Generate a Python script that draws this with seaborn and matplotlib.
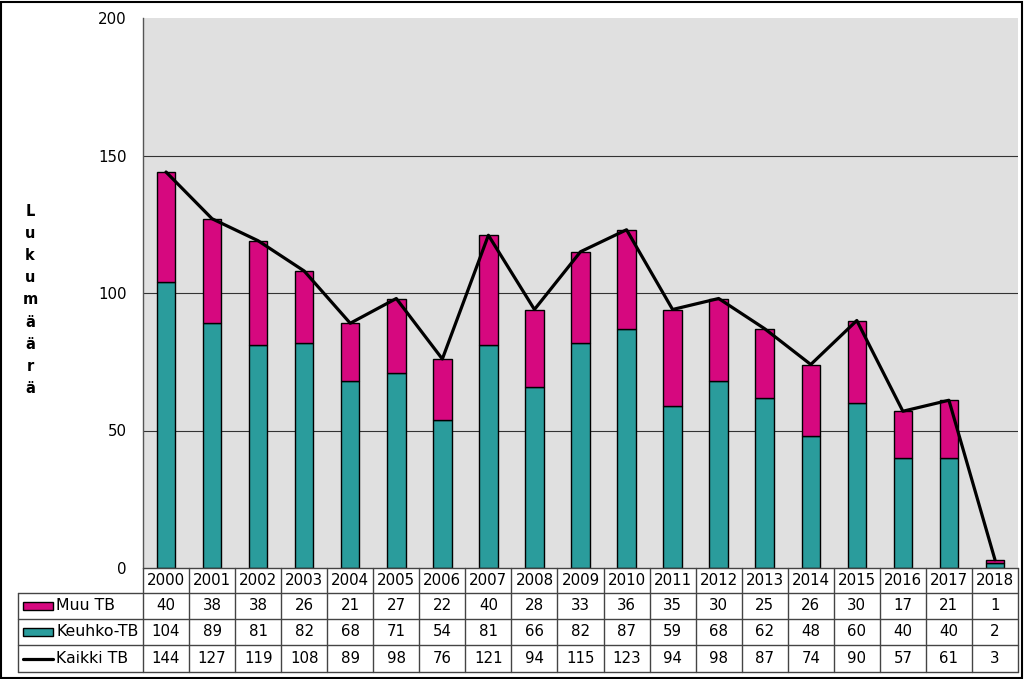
import numpy as np
import pandas as pd
import matplotlib
matplotlib.use("Agg")
import matplotlib.pyplot as plt
import matplotlib.transforms as mtransforms
from matplotlib.patches import Rectangle
from matplotlib.lines import Line2D
import seaborn as sns

years = ["2000", "2001", "2002", "2003", "2004", "2005", "2006", "2007", "2008", "2009",
         "2010", "2011", "2012", "2013", "2014", "2015", "2016", "2017", "2018"]
muu_tb = [40, 38, 38, 26, 21, 27, 22, 40, 28, 33, 36, 35, 30, 25, 26, 30, 17, 21, 1]
keuhko_tb = [104, 89, 81, 82, 68, 71, 54, 81, 66, 82, 87, 59, 68, 62, 48, 60, 40, 40, 2]
kaikki_tb = [144, 127, 119, 108, 89, 98, 76, 121, 94, 115, 123, 94, 98, 87, 74, 90, 57, 61, 3]
series_labels = ["Muu TB", "Keuhko-TB", "Kaikki TB"]
y_ticks = [0, 50, 100, 150, 200]

MAGENTA = "#D6087F"
TEAL = "#2A9C9C"
BG = "#E0E0E0"

sns.set_style("white")
plt.rcParams["font.family"] = ["DejaVu Sans"]
plt.rcParams["text.color"] = "black"
FS = 10.8

W, H = 1024, 679
fig = plt.figure(figsize=(W / 100, H / 100), dpi=100)
ax_left, ax_right, ax_top, ax_bot = 143, 1018, 18, 568
ax = fig.add_axes([ax_left / W, 1 - ax_bot / H, (ax_right - ax_left) / W, (ax_bot - ax_top) / H])
ax.set_facecolor(BG)

df = pd.DataFrame({"year": years, "muu": muu_tb, "keuhko": keuhko_tb, "kaikki": kaikki_tb})
sns.barplot(data=df, x="year", y="keuhko", color=TEAL, width=0.4, saturation=1,
            edgecolor="black", linewidth=1, ax=ax)
sns.barplot(data=df, x="year", y="muu", bottom=df["keuhko"], color=MAGENTA, width=0.4,
            saturation=1, edgecolor="black", linewidth=1, ax=ax)
pos = np.arange(len(years))
sns.lineplot(x=pos, y=df["kaikki"].values, color="black", linewidth=2.3, ax=ax)

ax.set_xlim(-0.5, len(years) - 0.5)
ax.set_ylim(0, 200)
ax.set_yticks(y_ticks)
ax.set_yticklabels([str(t) for t in y_ticks], fontsize=FS, color="black")
ax.set_xticks([])
ax.set_xlabel("")
ax.set_ylabel("")
for t in y_ticks[1:-1]:
    ax.axhline(t, color="#333333", linewidth=0.8, zorder=0.5)
for s in ["top", "right", "bottom"]:
    ax.spines[s].set_visible(False)
ax.spines["left"].set_color("#555555")
ax.spines["left"].set_linewidth(1)
ax.tick_params(axis="y", direction="out", length=5, width=1, color="#555555", pad=7)
ax.set_axisbelow(True)

# y label: stacked letters
fig.text(30 / W, 1 - 300 / H, "\n".join("Lukumäärä"), ha="center", va="center",
         fontsize=10.5, fontweight="bold", linespacing=1.6, color="black")

# data table
tr = mtransforms.blended_transform_factory(ax.transData, fig.transFigure)
def fy(p):
    return 1 - p / H
rows_y = [568, 593, 619, 645, 672]
lc = "#444444"
fig.add_artist(Line2D([ax_left / W, ax_right / W], [fy(rows_y[0])] * 2, color=lc, lw=1))
for yy in rows_y[1:]:
    fig.add_artist(Line2D([18 / W, ax_right / W], [fy(yy)] * 2, color=lc, lw=1))
for i in range(len(years) + 1):
    fig.add_artist(Line2D([i - 0.5, i - 0.5], [fy(rows_y[0]), fy(rows_y[-1])],
                          transform=tr, color=lc, lw=1))
fig.add_artist(Line2D([18 / W, 18 / W], [fy(rows_y[1]), fy(rows_y[-1])], color=lc, lw=1))

row_vals = [muu_tb, keuhko_tb, kaikki_tb]
for i, yr in enumerate(years):
    fig.text(i, fy((rows_y[0] + rows_y[1]) / 2), yr, transform=tr, ha="center",
             va="center", fontsize=FS)
    for r, vals in enumerate(row_vals):
        fig.text(i, fy((rows_y[r + 1] + rows_y[r + 2]) / 2), str(vals[i]), transform=tr,
                 ha="center", va="center", fontsize=FS)

key_colors = [MAGENTA, TEAL, None]
for r, lab in enumerate(series_labels):
    yc = (rows_y[r + 1] + rows_y[r + 2]) / 2
    if key_colors[r] is not None:
        fig.add_artist(Rectangle((23 / W, fy(yc + 4)), 30 / W, 8 / H, transform=fig.transFigure,
                                 facecolor=key_colors[r], edgecolor="black", lw=1))
    else:
        fig.add_artist(Line2D([23 / W, 53 / W], [fy(yc)] * 2, color="black", lw=2.3))
    fig.text(56 / W, fy(yc), lab, ha="left", va="center", fontsize=11.3)

# outer frame
fig.add_artist(Rectangle((1 / W, 1 / H), (W - 3) / W, (H - 3) / H, transform=fig.transFigure,
                         facecolor="none", edgecolor="black", lw=1.5))

fig.savefig("out.png", dpi=100, facecolor="white")
